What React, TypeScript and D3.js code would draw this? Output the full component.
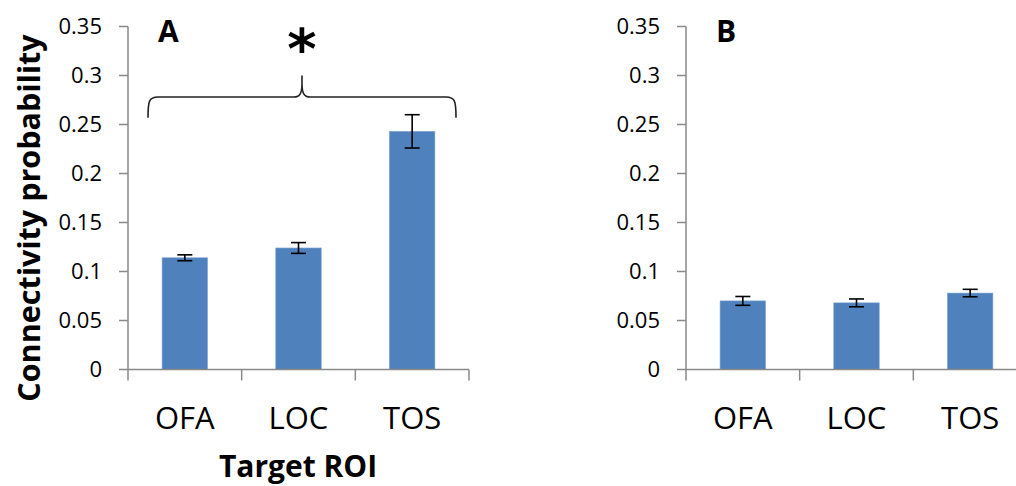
import React from "react";
import * as d3 from "d3";

const categories = ["OFA", "LOC", "TOS"];
const valuesA = [0.114, 0.124, 0.243];
const errorsA = [0.003, 0.0055, 0.017];
const valuesB = [0.07, 0.068, 0.078];
const errorsB = [0.0045, 0.004, 0.0038];
const yTicks = [0, 0.05, 0.1, 0.15, 0.2, 0.25, 0.3, 0.35];
const tickLabels = ["0", "0.05", "0.1", "0.15", "0.2", "0.25", "0.3", "0.35"];

const W = 1016;
const H = 486;
const FONT = "'Open Sans', sans-serif";
const BAR = "#4F81BD";
const AXIS = "#898989";

const y = d3.scaleLinear().domain([0, 0.35]).range([369.5, 26.5]);

type PanelProps = {
  x0: number;
  values: number[];
  errors: number[];
  letter: string;
};

function Panel({ x0, values, errors, letter }: PanelProps) {
  const x = d3
    .scaleBand<string>()
    .domain(categories)
    .range([x0, x0 + 341])
    .paddingInner(0.6)
    .paddingOuter(0.3);
  const step = x.step();
  const bw = x.bandwidth();
  const y0 = y(0);
  return (
    <g>
      {/* bars */}
      {categories.map((c, i) => (
        <rect
          key={c}
          x={x(c)}
          y={y(values[i])}
          width={bw}
          height={y0 - y(values[i])}
          fill={BAR}
          stroke="#7FA3D0"
          strokeWidth={0.6}
        />
      ))}
      {/* error bars */}
      {categories.map((c, i) => {
        const cx = (x(c) as number) + bw / 2;
        const top = y(values[i] + errors[i]);
        const bot = y(values[i] - errors[i]);
        return (
          <g key={c} stroke="#000" strokeWidth={1.6}>
            <line x1={cx} x2={cx} y1={top} y2={bot} />
            <line x1={cx - 7.5} x2={cx + 7.5} y1={top} y2={top} />
            <line x1={cx - 7.5} x2={cx + 7.5} y1={bot} y2={bot} />
          </g>
        );
      })}
      {/* y axis */}
      <line x1={x0} x2={x0} y1={y(0.35)} y2={y0} stroke={AXIS} strokeWidth={1.5} />
      {yTicks.map((t, i) => (
        <g key={t}>
          <line x1={x0 - 9} x2={x0} y1={y(t)} y2={y(t)} stroke={AXIS} strokeWidth={1.5} />
          <text
            x={x0 - 26}
            y={y(t)}
            dy="0.36em"
            textAnchor="end"
            fontFamily={FONT}
            fontSize={22}
            fill="#000"
          >
            {tickLabels[i]}
          </text>
        </g>
      ))}
      {/* x axis */}
      <line x1={x0} x2={x0 + 341} y1={y0} y2={y0} stroke={AXIS} strokeWidth={1.5} />
      {d3.range(categories.length + 1).map((k) => (
        <line
          key={k}
          x1={x0 + k * step}
          x2={x0 + k * step}
          y1={y0}
          y2={y0 + 11}
          stroke={AXIS}
          strokeWidth={1.5}
        />
      ))}
      {categories.map((c) => (
        <text
          key={c}
          x={(x(c) as number) + bw / 2}
          y={429}
          textAnchor="middle"
          fontFamily={FONT}
          fontSize={31}
          fill="#000"
        >
          {c}
        </text>
      ))}
      {/* panel letter */}
      <text
        x={x0 + 30}
        y={41.5}
        fontFamily={FONT}
        fontWeight="bold"
        fontSize={30}
        fill="#000"
      >
        {letter}
      </text>
    </g>
  );
}

// curly brace over the panel A bars
function Brace() {
  const left = 148;
  const right = 456;
  const mid = (left + right) / 2;
  const level = y(0.278);
  const tip = y(0.3);
  const ends = y(0.257);
  const p = d3.path();
  p.moveTo(left, ends);
  p.bezierCurveTo(left, level + 4, left + 1, level, left + 10, level);
  p.lineTo(mid - 8, level);
  p.bezierCurveTo(mid - 2, level, mid, level - 4, mid, tip + 8);
  p.lineTo(mid, tip);
  p.moveTo(mid, tip + 8);
  p.bezierCurveTo(mid, level - 4, mid + 2, level, mid + 8, level);
  p.lineTo(right - 10, level);
  p.bezierCurveTo(right - 1, level, right, level + 4, right, ends);
  return (
    <g>
      <path d={p.toString()} fill="none" stroke="#222" strokeWidth={1.6} />
      <text
        x={mid}
        y={68}
        textAnchor="middle"
        fontFamily="'DejaVu Sans', sans-serif"
        fontWeight="bold"
        fontSize={56}
        fill="#000"
      >
        *
      </text>
    </g>
  );
}

export default function App() {
  return (
    <svg
      width={W}
      height={H}
      style={{ position: "absolute", left: 0, top: 0, background: "#fff" }}
    >
      <rect width={W} height={H} fill="#fff" />
      <Panel x0={128} values={valuesA} errors={errorsA} letter="A" />
      <Panel x0={686} values={valuesB} errors={errorsB} letter="B" />
      <Brace />
      <text
        transform="translate(40,218) rotate(-90)"
        textAnchor="middle"
        fontFamily={FONT}
        fontWeight="bold"
        fontSize={30.5}
        fill="#000"
      >
        Connectivity probability
      </text>
      <text
        x={298}
        y={477}
        textAnchor="middle"
        fontFamily={FONT}
        fontWeight="bold"
        fontSize={30}
        fill="#000"
      >
        Target ROI
      </text>
    </svg>
  );
}
